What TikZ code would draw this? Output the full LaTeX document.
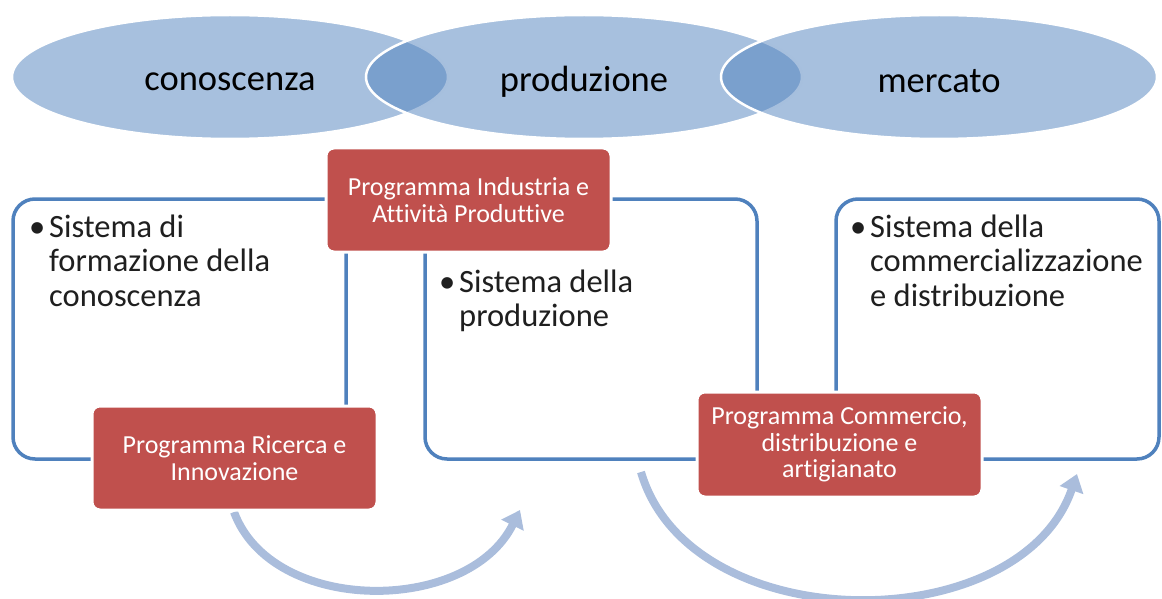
\documentclass[tikz,border=0pt]{standalone}
\usepackage{fontspec}
\setmainfont{Carlito}[Ligatures=NoCommon]
\usetikzlibrary{arrows.meta,shapes.geometric}
\definecolor{accblue}{HTML}{4F81BD}
\definecolor{accred}{HTML}{C0504D}
\definecolor{arcblue}{HTML}{AABDDC}
\newcommand{\bul}{\makebox[20pt][l]{\textbullet}}
\newcommand{\low}[1]{\raisebox{-4.5pt}[\height][\depth]{#1}}
\begin{document}
\begin{tikzpicture}[x=1pt,y=-1pt,
  circ/.style={ellipse, minimum width=436pt, minimum height=124pt, fill=accblue, fill opacity=0.5, text opacity=1, draw=white, line width=2.5pt, font=\fontsize{36.5}{40}\selectfont},
  sysbox/.style={draw=accblue, line width=3.5pt, rounded corners=22pt, fill=white},
  systext/.style={anchor=base west, inner sep=0pt, font=\fontsize{32.5}{34.5}\selectfont, text=black!88},
  progbox/.style={fill=accred, draw=white, line width=3pt, rounded corners=8pt, minimum width=285pt, minimum height=104pt, text=white, align=center, font=\fontsize{26}{26.5}\selectfont},
  flow/.style={draw=arcblue, line width=8pt, -{Triangle[length=17pt,width=24pt]}}]
\useasboundingbox (0,0) rectangle (1162,599);
% ellipses
\node[circ] (e1) at (230,77) {\low{conoscenza}};
\node[circ] (e2) at (584,77) {\low{produzione}};
\node[circ] (e3) at (939,77) {\low{mercato}};
% system boxes
\node[sysbox, minimum width=333pt, minimum height=260pt] (b1) at (179.5,329) {};
\node[sysbox, minimum width=332pt, minimum height=260pt] (b2) at (591,329) {};
\node[sysbox, minimum width=323pt, minimum height=260pt] (b3) at (997.5,329) {};
\node[systext] (t1) at (29,237) {\begin{tabular}[t]{@{}l@{}l@{}}\bul&Sistema di\\&formazione della\\&conoscenza\end{tabular}};
\node[systext] (t2) at (439,292) {\begin{tabular}[t]{@{}l@{}l@{}}\bul&Sistema della\\&produzione\end{tabular}};
\node[systext] (t3) at (850,237) {\begin{tabular}[t]{@{}l@{}l@{}}\bul&Sistema della\\&commercializzazione\\&e distribuzione\end{tabular}};
% arrows
\coordinate (a1s) at (234,512);
\coordinate (a1e) at (520,510);
\coordinate (a2s) at (641,472);
\coordinate (a2e) at (1077,474);
\draw[flow] (a1s) .. controls (272,615) and (468,615) .. (a1e);
\draw[flow] (a2s) .. controls (690,640) and (1020,640) .. (a2e);
% programme boxes
\node[progbox] (r1) at (468.5,200) {Programma Industria e\\Attività Produttive};
\node[progbox] (r2) at (234.5,458) {Programma Ricerca e\\Innovazione};
\node[progbox, minimum height=105pt] (r3) at (839.5,444.5) {Programma Commercio,\\distribuzione e\\artigianato};
\end{tikzpicture}
\end{document}
